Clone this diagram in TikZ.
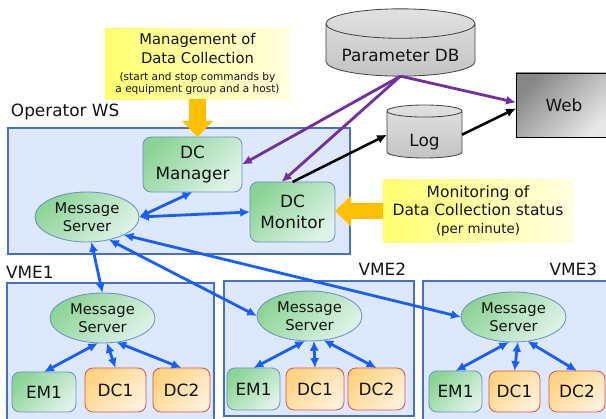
\documentclass[tikz,border=0pt]{standalone}
\usepackage{fontspec}
\setmainfont{DejaVu Sans}
\usetikzlibrary{shapes.geometric,arrows.meta}

\definecolor{dqwsfill}{RGB}{221,232,252}
\definecolor{dqwsdraw}{RGB}{72,112,200}
\definecolor{dqgreendark}{RGB}{140,212,150}
\definecolor{dqgreenlight}{RGB}{222,242,232}
\definecolor{dqgreendraw}{RGB}{105,145,200}
\definecolor{dqorangedark}{RGB}{255,212,130}
\definecolor{dqorangelight}{RGB}{255,240,218}
\definecolor{dqreddraw}{RGB}{222,80,80}
\definecolor{dqyellowdark}{RGB}{255,255,110}
\definecolor{dqyellowlight}{RGB}{255,255,225}
\definecolor{dqarrow}{RGB}{255,192,0}
\definecolor{dqblue}{RGB}{25,95,255}
\definecolor{dqpurple}{RGB}{112,48,160}
\definecolor{dqgraydark}{RGB}{195,195,195}
\definecolor{dqgraylight}{RGB}{225,225,225}
\definecolor{dqgraydraw}{RGB}{70,70,70}
\definecolor{dqwebdark}{RGB}{135,135,135}
\definecolor{dqweblight}{RGB}{232,232,232}
\definecolor{dqtext}{RGB}{20,20,20}

\begin{document}
\begin{tikzpicture}[
  x=0.025cm,
  y=-0.025cm,
  every node/.style={inner sep=0pt, outer sep=0pt},
  txt/.style={font=\fontsize{12}{14.5}\selectfont, text=dqtext, align=center},
  mstxt/.style={font=\fontsize{10.5}{12.5}\selectfont, text=dqtext, align=center},
  panel/.style={draw=dqwsdraw, fill=dqwsfill, line width=0.8pt},
  appbox/.style={txt, draw=dqgreendraw, rounded corners=0.2cm, line width=0.6pt, top color=dqgreendark, bottom color=dqgreenlight, shading angle=45},
  dcbox/.style={txt, draw=dqreddraw, rounded corners=0.2cm, line width=0.6pt, top color=dqorangedark, bottom color=dqorangelight, shading angle=45},
  msnode/.style={mstxt, ellipse, draw=dqgreendraw, line width=0.6pt, top color=dqgreendark, bottom color=dqgreenlight, shading angle=45, minimum width=2.625cm, minimum height=1.25cm},
  notebox/.style={text=dqtext, align=center, left color=dqyellowdark, right color=dqyellowlight},
  dbcyl/.style={txt, cylinder, shape border rotate=90, draw=dqgraydraw, line width=0.6pt, top color=dqgraylight, bottom color=dqgraydark},
  webbox/.style={txt, draw=black, line width=0.6pt, top color=dqwebdark, bottom color=dqweblight, shading angle=45},
  fatflow/.style={draw=dqarrow, line width=12pt, -{Triangle[length=11.4pt,width=21.5pt]}},
  biflow/.style={draw=dqblue, line width=2pt, {Latex[length=7pt,width=6.5pt]}-{Latex[length=7pt,width=6.5pt]}},
  dbflow/.style={draw=dqpurple, line width=2pt, -{Latex[length=7pt,width=6.5pt]}},
  logflow/.style={draw=black, line width=1.8pt, -{Latex[length=7pt,width=6.5pt]}}
]

  \path[use as bounding box] (0,0) rectangle (606,419);

  % Operator workstation
  \draw[panel] (8,128) rectangle (350,254);
  \node[txt, anchor=west] (opwslbl) at (11,112) {Operator WS};
  \node[appbox, minimum width=2.475cm, minimum height=1.375cm] (dcman) at (192.5,164.5) {DC\\Manager};
  \node[appbox, minimum width=2.125cm, minimum height=1.5cm] (dcmon) at (292.5,212) {DC\\Monitor};
  \node[msnode, minimum width=2.6cm] (opms) at (87,217) {Message\\Server};

  % VME crates
  \draw[panel] (7,283) rectangle (214,425);
  \draw[panel] (224,281) rectangle (414,416);
  \draw[panel] (423,281) rectangle (612,425);
  \node[txt, anchor=west] (vme1lbl) at (6,272) {VME1};
  \node[txt, anchor=east] (vme2lbl) at (406,269) {VME2};
  \node[txt, anchor=east] (vme3lbl) at (597,269) {VME3};

  \node[msnode] (ms1) at (102.5,318) {Message\\Server};
  \node[appbox, minimum width=1.6cm, minimum height=1.0cm] (em1a) at (44,392) {EM1};
  \node[dcbox, minimum width=1.525cm, minimum height=1.1cm] (dc1a) at (115.5,390) {DC1};
  \node[dcbox, minimum width=1.425cm, minimum height=1.1cm] (dc2a) at (181.5,390) {DC2};

  \node[msnode] (ms2) at (309.5,316) {Message\\Server};
  \node[appbox, minimum width=1.325cm, minimum height=1.05cm] (em1b) at (253.5,389) {EM1};
  \node[dcbox, minimum width=1.45cm, minimum height=1.05cm] (dc1b) at (315,389) {DC1};
  \node[dcbox, minimum width=1.425cm, minimum height=1.05cm] (dc2b) at (376.5,389) {DC2};

  \node[msnode] (ms3) at (513.5,317) {Message\\Server};
  \node[appbox, minimum width=1.325cm, minimum height=1.025cm] (em1c) at (455.5,391.5) {EM1};
  \node[dcbox, minimum width=1.275cm, minimum height=1.025cm] (dc1c) at (514.5,391.5) {DC1};
  \node[dcbox, minimum width=1.4cm, minimum height=1.025cm] (dc2c) at (577,391.5) {DC2};

  % Notes
  \node[notebox, minimum width=4.625cm, minimum height=1.75cm, font=\fontsize{10.5}{13.5}\selectfont] (mgmt) at (197.5,64)
    {Management of\\Data Collection\\[-2pt]{\fontsize{7.5}{9}\selectfont (start and stop commands by}\\[-5pt]{\fontsize{7.5}{9}\selectfont a equipment group and a host)}};
  \node[notebox, minimum width=4.75cm, minimum height=1.55cm, font=\fontsize{11}{12.8}\selectfont] (monnote) at (478,211)
    {Monitoring of\\Data Collection status\\{\fontsize{9.5}{11}\selectfont (per minute)}};

  % Storage and web
  \node[dbcyl, aspect=0.25, minimum width=3.725cm, minimum height=1.475cm, text height=16pt, anchor=shape center] (pdb) at (400.5,42.5) {Parameter DB};
  \node[dbcyl, aspect=0.4, minimum width=1.875cm, minimum height=1.325cm, text height=19pt, anchor=shape center] (logdb) at (424.5,131.5) {Log};
  \node[webbox, minimum width=2.4cm, minimum height=1.6cm] (web) at (564,105) {Web};

  % Connectors
  \draw[fatflow] (mgmt.south) -- (mgmt.south |- dcman.north);
  \draw[fatflow, line width=10.7pt] (monnote.west) -- (monnote.west -| dcmon.east);

  \draw[biflow] (opms.east) -- (dcman.south);
  \draw[biflow] (opms.east) -- (dcmon.west);
  \draw[biflow] (opms.-80) -- (ms1.north);
  \draw[biflow] (opms.-46) -- (ms2.west);
  \draw[biflow] (opms.-26) -- (ms3.west);

  \draw[biflow] (ms1.-100) -- (em1a.north);
  \draw[biflow] (ms1.-80) -- (dc1a.north);
  \draw[biflow] (ms1.-60) -- (dc2a.north);
  \draw[biflow] (ms2.-100) -- (em1b.north);
  \draw[biflow] (ms2.-80) -- (dc1b.north);
  \draw[biflow] (ms2.-60) -- (dc2b.north);
  \draw[biflow] (ms3.-100) -- (em1c.north);
  \draw[biflow] (ms3.-80) -- (dc1c.north);
  \draw[biflow] (ms3.-60) -- (dc2c.north);

  \draw[dbflow] (pdb.bottom) -- (dcman.east);
  \draw[dbflow] (pdb.bottom) -- (dcmon.110);
  \draw[dbflow] (pdb.bottom) -- (web.177);

  \draw[logflow] (dcmon.north) -- (logdb.west);
  \draw[logflow] (logdb.east) -- (web.184);

\end{tikzpicture}
\end{document}
